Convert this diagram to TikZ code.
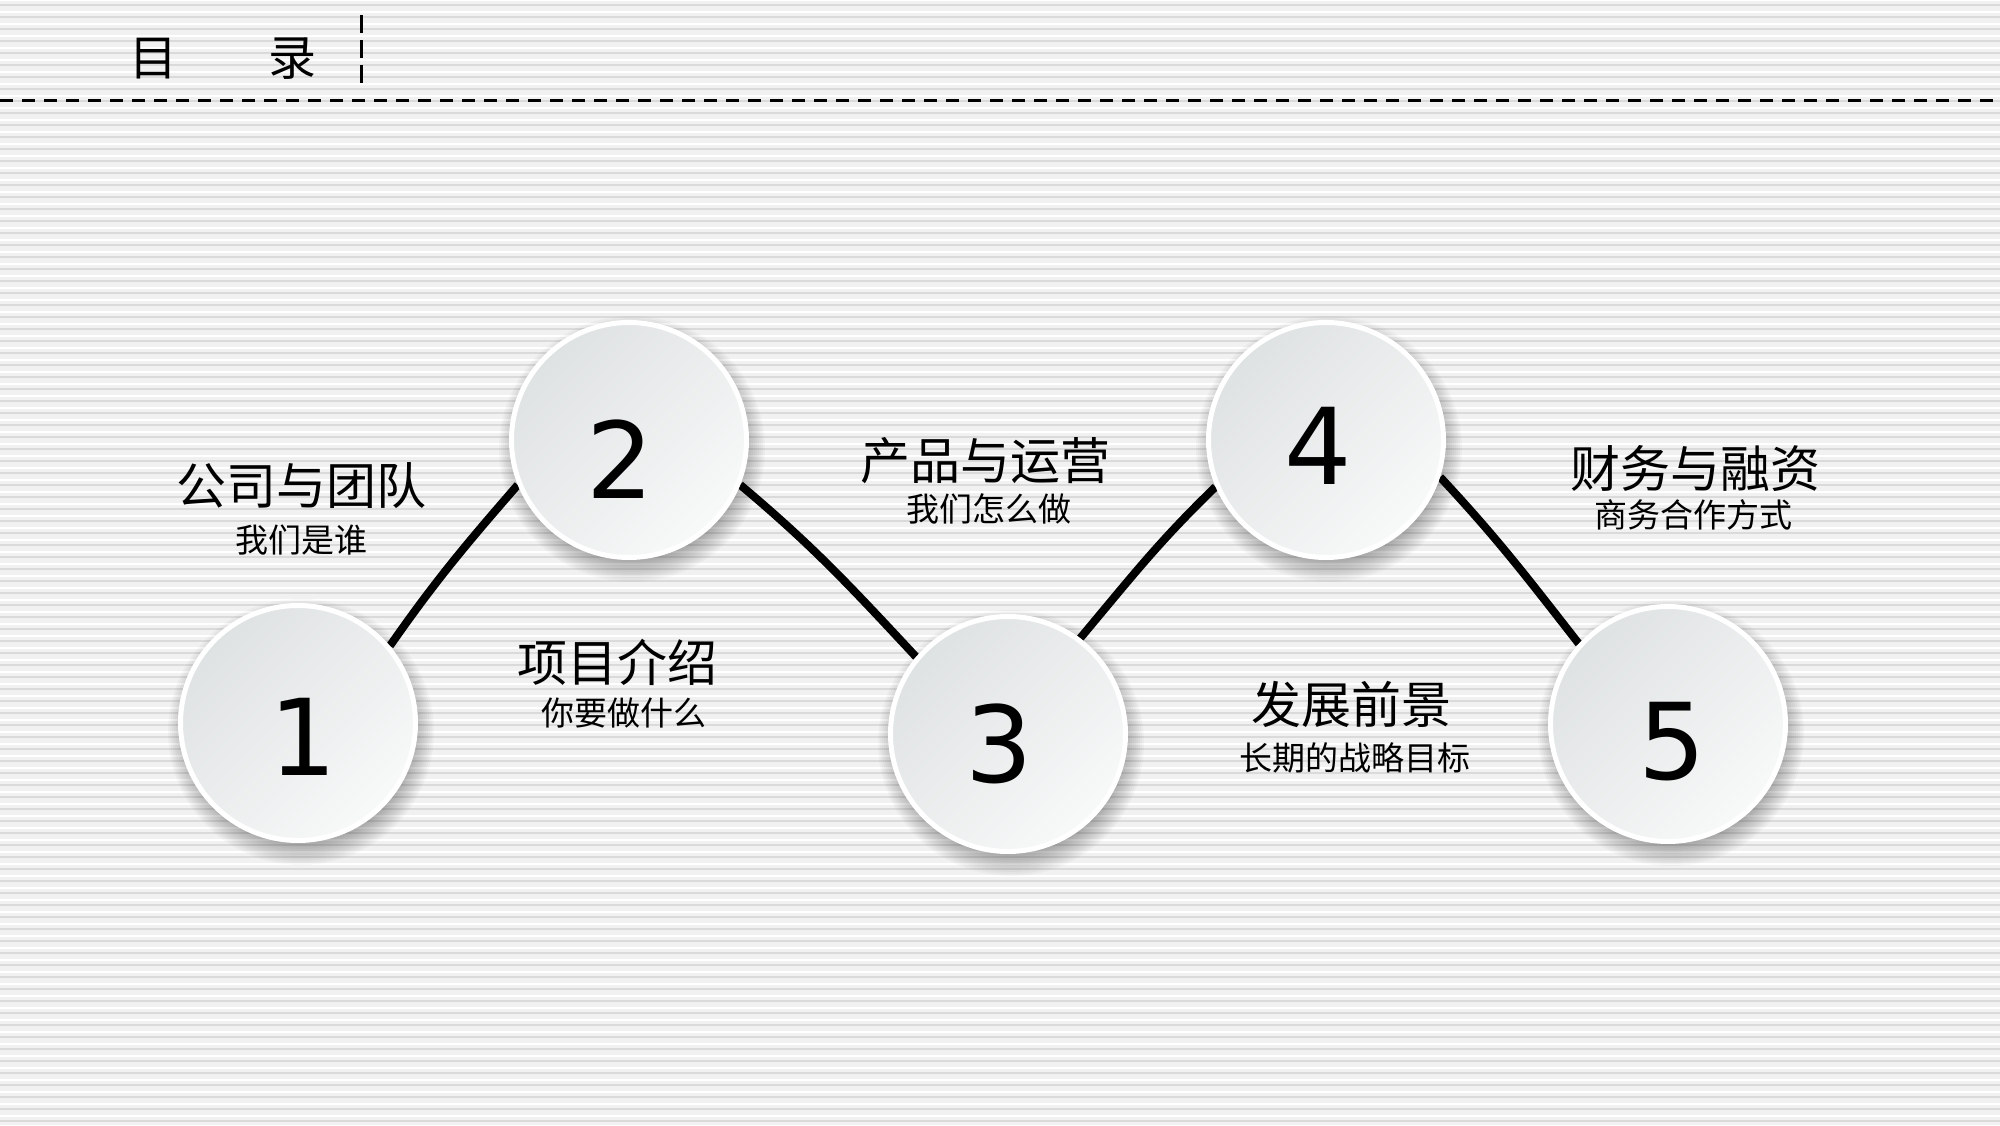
\documentclass[tikz,border=0pt]{standalone}
\usepackage{fontspec}
\newfontfamily\cjk{Noto Sans CJK SC}
\newfontfamily\digitfont{DejaVu Sans}
\pgfdeclarelayer{back}
\pgfdeclarelayer{bg}
\pgfsetlayers{back,bg,main}
\definecolor{circA}{HTML}{DFE2E3}
\definecolor{circB}{HTML}{F8F9F9}
\definecolor{bgcol}{HTML}{F1F1F1}
\definecolor{stripecol}{HTML}{DADADA}
\begin{document}
\begin{tikzpicture}[x=1pt,y=1pt,
  ball/.style={circle, minimum size=235pt, inner sep=0pt, draw=white, line width=5pt,
    top color=circA, bottom color=circB, shading angle=45},
  shadowdisc/.style={fill=black, fill opacity=0.028},
  conn/.style={line width=8pt, black},
  num/.style={font=\digitfont\fontsize{106}{110}\selectfont, inner sep=0pt, text=black},
  head/.style={font=\cjk\fontsize{50}{56}\selectfont, inner sep=0pt, text=black},
  subt/.style={font=\cjk\fontsize{33}{38}\selectfont, inner sep=0pt, text=black},
  ttl/.style={font=\cjk\fontsize{48}{54}\selectfont, inner sep=0pt, text=black}]
\useasboundingbox (0,0) rectangle (2000,1125);
\begin{pgfonlayer}{back}
  \fill[bgcol] (0,0) rectangle (2000,1125);
  \foreach \yy in {4,16,...,1125} \draw[stripecol, line width=2pt] (0,\yy) -- (2000,\yy);
  \foreach \yy in {9,21,...,1125} \draw[white, line width=2pt] (0,\yy) -- (2000,\yy);
\end{pgfonlayer}

% title
\node[ttl] (t1) at (153,1066) {目};
\node[ttl] (t2) at (292,1066) {录};
\coordinate (vtop) at (361,1110);
\coordinate (vbot) at (361,1035);
\draw[line width=3pt, dash pattern=on 18pt off 7pt] (vtop) -- (vbot);
\coordinate (hl) at (0,1024);
\coordinate (hr) at (2000,1024);
\draw[line width=3pt, dash pattern=on 13pt off 9pt] (hl) -- (hr);

% centres
\coordinate (p1) at (298,402);
\coordinate (p2) at (629,685);
\coordinate (p3) at (1008,391);
\coordinate (p4) at (1326,685);
\coordinate (p5) at (1668,401);

% soft shadows
\foreach \p in {p1,p2,p3,p4,p5}{
  \foreach \k in {0,...,11}{
    \fill[shadowdisc] ([shift={(3,-9)}]\p) circle ({133-2*\k});
  }
}

% circles
\node[ball] (c1) at (p1) {};
\node[ball] (c2) at (p2) {};
\node[ball] (c3) at (p3) {};
\node[ball] (c4) at (p4) {};
\node[ball] (c5) at (p5) {};

\node[num] (n1) at (303,388) {1};
\node[num] (n2) at (620,666) {2};
\node[num] (n3) at (999,381) {3};
\node[num] (n4) at (1318,679) {4};
\node[num] (n5) at (1672,383) {5};

% connectors
\begin{pgfonlayer}{bg}
\draw[conn] (c1.40) to[out=55,in=229] (c2.202);
\draw[conn] (c2.338) to[out=-40,in=133] (c3.140);
\draw[conn] (c3.53) to[out=50,in=224] (c4.203);
\draw[conn] (c4.342) to[out=-47,in=128] (c5.138);
\end{pgfonlayer}

% labels
\node[head] (h1) at (301,639) {公司与团队};
\node[subt] (s1) at (301,585) {我们是谁};
\node[head] (h2) at (617,463) {项目介绍};
\node[subt] (s2) at (624,412) {你要做什么};
\node[head] (h3) at (985,664) {产品与运营};
\node[subt] (s3) at (989,616) {我们怎么做};
\node[head] (h4) at (1351,421) {发展前景};
\node[subt] (s4) at (1355,367) {长期的战略目标};
\node[head] (h5) at (1695,656) {财务与融资};
\node[subt] (s5) at (1693,610) {商务合作方式};
\end{tikzpicture}
\end{document}
